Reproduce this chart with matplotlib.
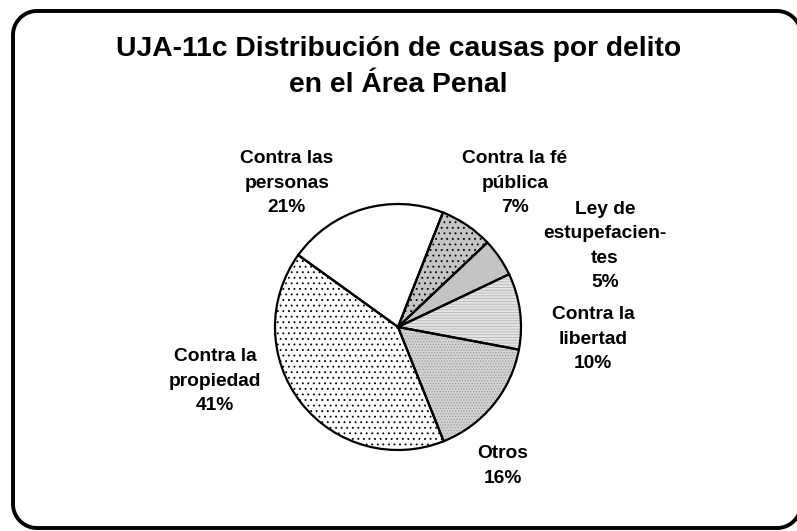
import numpy as np
import matplotlib.pyplot as plt

# slices in clockwise order, starting just right of the top
categories = [
    "Contra la fé\npública",
    "Ley de\nestupefacien-\ntes",
    "Contra la\nlibertad",
    "Otros",
    "Contra la\npropiedad",
    "Contra las\npersonas",
]
shares = [7, 5, 10, 16, 41, 21]
title = "UJA-11c Distribución de causas por delito\nen el Área Penal"

face_colors = ["#c4c4c4", "#c4c4c4", "#e6e6e6", "#d4d4d4", "#ffffff", "#ffffff"]
hatches = ["...", None, "------", "......", "...", None]
hatch_colors = ["#000000", "#c4c4c4", "#b4b4b4", "#9a9a9a", "#000000", "#ffffff"]

# label centres in pixel space (x from left, y from top)
label_pos = [(515, 183), (605, 246), (593, 339), (503, 466), (215, 381), (287, 183)]

W, H = 797, 531
plt.rcParams["font.family"] = ["Liberation Sans", "DejaVu Sans"]
plt.rcParams["hatch.linewidth"] = 0.6


def rounded_frame(x0, y0, x1, y1, r):
    # open outline, starting and ending on the right side (which is off-canvas)
    def arc(cx, cy, a0, a1):
        t = np.radians(np.linspace(a0, a1, 30))
        return cx + r * np.cos(t), cy + r * np.sin(t)

    parts = [arc(x1 - r, y0 + r, 0, -90), arc(x0 + r, y0 + r, -90, -180),
             arc(x0 + r, y1 - r, 180, 90), arc(x1 - r, y1 - r, 90, 0)]
    xs = np.concatenate([p[0] for p in parts])
    ys = np.concatenate([p[1] for p in parts])
    return xs, ys


fig = plt.figure(figsize=(W / 100, H / 100), dpi=100)
ax = fig.add_axes([0, 0, 1, 1])

center = (398, H - 327)
radius = 123
start = 68.6

wedges, _ = ax.pie(shares, center=center, radius=radius, startangle=start,
                   counterclock=False, colors=face_colors,
                   wedgeprops=dict(linewidth=0))
for w, hatch, hc in zip(wedges, hatches, hatch_colors):
    if hatch:
        w.set_hatch(hatch)
    w.set_edgecolor(hc)

ax.pie(shares, center=center, radius=radius, startangle=start,
       counterclock=False,
       wedgeprops=dict(facecolor="none", edgecolor="black", linewidth=1.6))

for (cat, share), (lx, ly) in zip(zip(categories, shares), label_pos):
    ax.text(lx, H - ly, f"{cat}\n{share}%", ha="center", va="center",
            fontsize=13.8, fontweight="bold", linespacing=1.55)

ax.text(W / 2, H - 67, title, ha="center", va="center", fontsize=20.3,
        fontweight="bold", linespacing=1.45)

fx, fy = rounded_frame(13, H - 528, 801, H - 11, 24)
ax.plot(fx, fy, color="black", linewidth=2.8, solid_joinstyle="round")

ax.set_xlim(0, W)
ax.set_ylim(0, H)
ax.set_aspect("equal")
ax.axis("off")

fig.savefig("out.png", dpi=100)
